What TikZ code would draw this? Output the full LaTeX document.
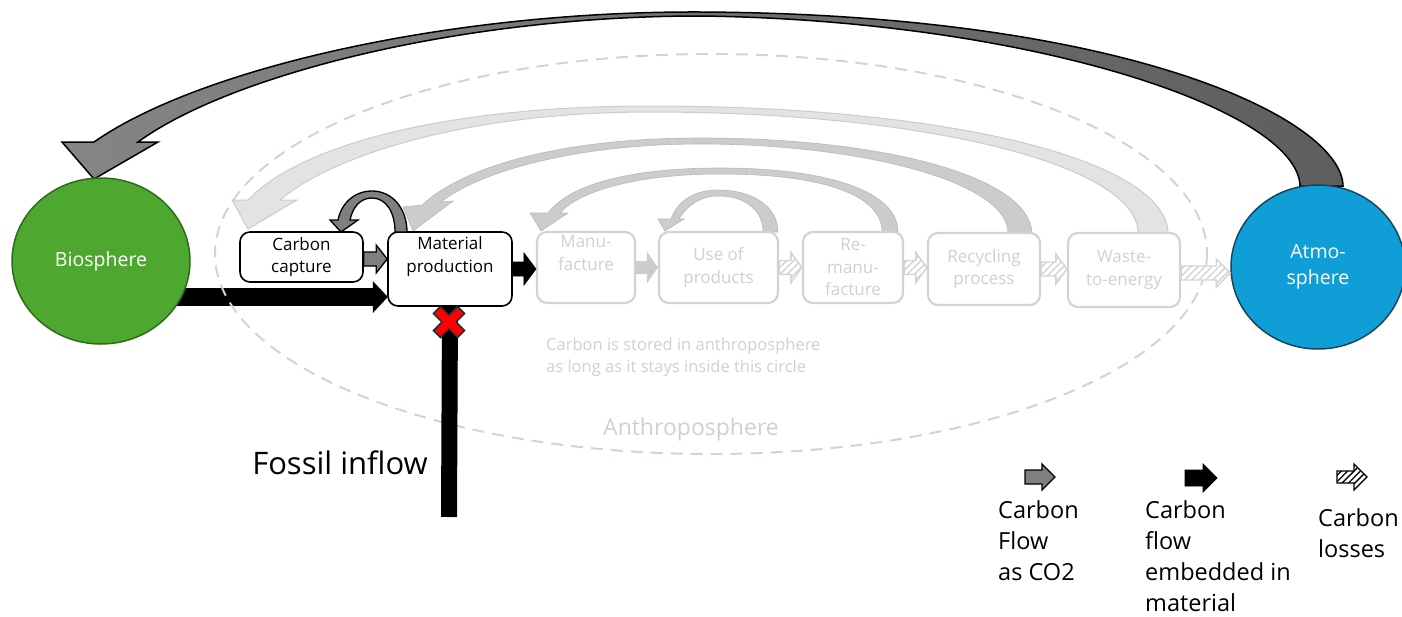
\documentclass[tikz,border=0pt]{standalone}
\usepackage{fontspec}
\setmainfont{Open Sans}
\usetikzlibrary{shapes.geometric,calc,patterns.meta}
\pgfdeclarelayer{back}
\pgfsetlayers{back,main}

\definecolor{bioGreen}{HTML}{4EA72E}
\definecolor{bioEdge}{HTML}{2F6B1D}
\definecolor{atmBlue}{HTML}{0F9ED5}
\definecolor{atmEdge}{HTML}{16465C}
\definecolor{paleText}{HTML}{D0D0D0}
\definecolor{paleEdge}{HTML}{D3D3D3}
\definecolor{paleFill}{HTML}{CCCCCC}
\definecolor{paleFillB}{HTML}{E3E3E3}
\definecolor{dashGray}{HTML}{CFD4DA}
\definecolor{co2Gray}{HTML}{7F7F7F}
\definecolor{co2Light}{HTML}{858585}
\definecolor{co2Dark}{HTML}{5E5E5E}
\definecolor{xRed}{HTML}{FF0000}
\definecolor{xEdge}{HTML}{1C2E3C}

\newcommand\bxfont{\fontsize{17}{22.5}\selectfont}

% horizontal block arrow: style, from, to, shaft half height, head half height, head length
\newcommand\blockarr[6]{%
  \path[#1] let \p1=#2, \p2=#3 in
    (\x1,\y1+#4pt) -- (\x2-#6pt,\y1+#4pt) -- (\x2-#6pt,\y1+#5pt) -- (\x2,\y1)
    -- (\x2-#6pt,\y1-#5pt) -- (\x2-#6pt,\y1-#4pt) -- (\x1,\y1-#4pt) -- cycle;}

\begin{document}
\begin{tikzpicture}[x=1pt,y=-1pt,
  box/.style={rectangle, rounded corners=10pt, draw=black, line width=1.6pt,
    fill=white, align=center, inner sep=0pt, font=\bxfont},
  palebox/.style={box, draw=paleEdge, line width=2.2pt, text=paleText},
  sphere/.style={ellipse, inner sep=0pt, line width=1.5pt, text=white,
    align=center, font=\fontsize{19.5}{26}\selectfont},
  co2arrow/.style={fill=co2Gray, draw=black, line width=1.3pt, line join=miter},
  matarrow/.style={fill=black, draw=black, line width=0.8pt},
  palearrow/.style={fill=paleFill, draw=none},
  palearc/.style={fill=paleFill, draw=paleFill!90!black, line width=0.6pt},
  palearcB/.style={fill=paleFillB, draw=paleFill, line width=1pt},
  lossarrow/.style={draw=paleEdge, line width=1.4pt, preaction={fill=white},
    pattern={Lines[angle=45,distance=5pt,line width=1.4pt]}, pattern color=paleEdge},
  keyloss/.style={lossarrow, draw=black, pattern color=black, line width=1.2pt,
    pattern={Lines[angle=45,distance=4.5pt,line width=1.3pt]}},
  anthro/.style={draw=dashGray, line width=2pt, dash pattern=on 12pt off 8pt},
  xmark/.style={fill=xRed, draw=xEdge, line width=1.5pt, line join=miter},
  keytext/.style={anchor=north west, align=left, inner sep=0pt,
    font=\fontsize{23.5}{31}\selectfont}
]
\useasboundingbox (0,0) rectangle (1402,616);

% anthroposphere boundary
\draw[anthro] (711,254) ellipse [x radius=496, y radius=200];

% the two spheres
\node[sphere, minimum width=178pt, minimum height=166pt, fill=bioGreen, draw=bioEdge]
  (bio) at (101,261) {Biosphere};
\node[sphere, minimum width=174pt, minimum height=164pt, fill=atmBlue, draw=atmEdge]
  (atm) at (1318,267) {Atmo-\\sphere};

% process boxes
\node[box, minimum width=123pt, minimum height=50pt] (cc) at (301.5,257) {Carbon\\capture};
\node[box, minimum width=124pt, minimum height=74pt] (mat) at (450,269) {Material\\production\\\strut};
\node[palebox, minimum width=98pt, minimum height=71pt] (manu) at (586,267.5) {Manu-\\facture\\\strut};
\node[palebox, minimum width=119pt, minimum height=71pt] (use) at (718.5,267.5) {Use of\\products};
\node[palebox, minimum width=100pt, minimum height=71pt] (reman) at (853,267.5) {Re-\\manu-\\facture};
\node[palebox, minimum width=112pt, minimum height=72pt] (recy) at (984,269) {Recycling\\process};
\node[palebox, minimum width=112pt, minimum height=74pt] (waste) at (1124,270) {Waste-\\to-energy};

\begin{pgfonlayer}{back}
  % return flows inside the anthroposphere
  \path[palearcB] (1168,233) .. controls (1166,160) and (950,106) .. (650,106)
    .. controls (445,106) and (300,145) .. (248,200)
    -- (232,200) -- (248,229) -- (297,200) -- (280,200)
    .. controls (332,156) and (465,112) .. (650,112)
    .. controls (930,112) and (1138,166) .. (1138,233) -- cycle;
  \path[palearc] (1032,233) .. controls (1030,178) and (890,138) .. (700,138)
    .. controls (565,138) and (465,165) .. (422,205)
    -- (403,207) -- (413,231) -- (453,201) -- (441,202)
    .. controls (482,170) and (580,144) .. (700,144)
    .. controls (862,144) and (1008,182) .. (1008,233) -- cycle;
  \path[palearc] (898,232) .. controls (898,192) and (830,168) .. (720,168)
    .. controls (625,168) and (568,186) .. (548,213)
    -- (530,213) -- (541,231) -- (568,213) -- (560,213)
    .. controls (578,192) and (635,174) .. (720,174)
    .. controls (820,174) and (882,194) .. (882,232) -- cycle;
  \path[palearc] (778,232) .. controls (778,206) and (752,190) .. (718,190)
    .. controls (695,190) and (678,200) .. (671,219)
    -- (658,219) -- (665,231) -- (684,219) -- (679,219)
    .. controls (688,204) and (702,196) .. (718,196)
    .. controls (745,196) and (763,210) .. (763,232) -- cycle;

  % CO2 uptake from the atmosphere back to the biosphere
  \path[draw=black, line width=1.5pt, line join=miter, left color=co2Light, right color=co2Dark]
    (1343,186) .. controls (1342,120) and (1130,14) .. (700,12)
    .. controls (450,11) and (200,68) .. (94,142)
    -- (62,142) -- (94,179) -- (158,142) -- (138,142)
    .. controls (230,75) and (460,16) .. (700,16)
    .. controls (1030,20) and (1298,110) .. (1300,186) -- cycle;

  % biomass feedstock
  \blockarr{matarrow}{([yshift=-36pt]bio.center)}{([yshift=-28pt]mat.west)}{8.5}{15}{14}
\end{pgfonlayer}

% flows between the boxes
\blockarr{co2arrow}{([yshift=-2pt]cc.east)}{(mat.west)}{7}{14}{11}
\blockarr{matarrow}{(mat.east)}{(manu.west)}{7}{16}{12}
\blockarr{palearrow}{(manu.east)}{(use.west)}{6.5}{16}{11}
\blockarr{lossarrow}{(use.east)}{(reman.west)}{7}{15}{11}
\blockarr{lossarrow}{(reman.east)}{(recy.west)}{7}{15}{11}
\blockarr{lossarrow}{(recy.east)}{(waste.west)}{7}{15}{11}
\blockarr{lossarrow}{([yshift=-3pt]waste.east)}{(atm.west)}{7}{14}{14}

% captured carbon fed back to capture
\path[co2arrow] (407,232) .. controls (407,208) and (392,191) .. (372,191)
  .. controls (354,191) and (341,204) .. (338,220)
  -- (330,220) -- (341,232) -- (358,220) -- (350,220)
  .. controls (353,206) and (361,198) .. (372,198)
  .. controls (386,198) and (395,212) .. (395,232) -- cycle;

% blocked fossil inflow
\coordinate (fossilend) at (449,517);
\draw[line width=16pt, black] (fossilend) -- (mat.south);
\path[xmark] [shift={(449,322)}, rotate=45]
  (5,17) -- (5,5) -- (17,5) -- (17,-5) -- (5,-5) -- (5,-17) -- (-5,-17)
  -- (-5,-5) -- (-17,-5) -- (-17,5) -- (-5,5) -- (-5,17) -- cycle;
\node[font=\fontsize{31}{36}\selectfont] (fossil) at (340,463) {Fossil inflow};

% labels of the anthroposphere
\node[anchor=north west, align=left, inner sep=0pt, text=paleText,
  font=\fontsize{16.5}{22}\selectfont] (note) at (546,338)
  {Carbon is stored in anthroposphere\\as long as it stays inside this circle};
\node[text=paleText, font=\fontsize{23}{28}\selectfont] (anthrolabel) at (691,430) {Anthroposphere};

% key
\coordinate (keyAa) at (1025,477); \coordinate (keyAb) at (1055,477);
\coordinate (keyBa) at (1185,478); \coordinate (keyBb) at (1217,478);
\coordinate (keyCa) at (1337,477); \coordinate (keyCb) at (1367,477);
\blockarr{co2arrow}{(keyAa)}{(keyAb)}{7}{13}{13}
\blockarr{matarrow}{(keyBa)}{(keyBb)}{8}{14}{14}
\blockarr{keyloss}{(keyCa)}{(keyCb)}{6}{13}{13}
\node[keytext] (keyA) at (998,500) {Carbon\\Flow\\as CO2};
\node[keytext] (keyB) at (1145,500) {Carbon\\flow\\embedded in\\material};
\node[keytext] (keyC) at (1318,508) {Carbon\\losses};
\end{tikzpicture}
\end{document}
